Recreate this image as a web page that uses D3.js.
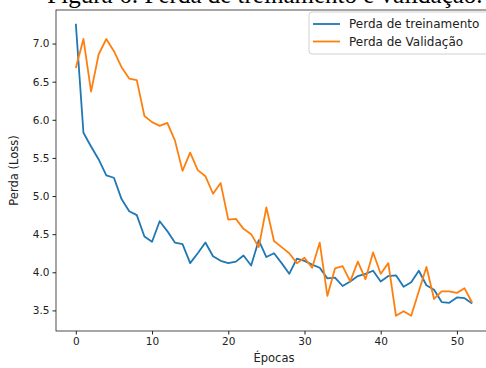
<!DOCTYPE html>
<meta charset="utf-8">
<style>
body { margin: 0; background: #fff; }
.tick text { font-family: "DejaVu Sans", sans-serif; font-size: 10.5px; fill: #222; }
.tick line { stroke: #222; }
.line { fill: none; stroke-width: 1.8px; stroke-linejoin: round; }
</style>
<body>
<script src="https://d3js.org/d3.v7.min.js"></script>
<script>

// data
var epochs = d3.range(0, 53);
var trainLoss = [7.26, 5.83, 5.65, 5.48, 5.27, 5.24, 4.96, 4.80, 4.75, 4.47,
  4.40, 4.67, 4.54, 4.39, 4.37, 4.12, 4.25, 4.39, 4.21, 4.15,
  4.12, 4.14, 4.22, 4.09, 4.42, 4.20, 4.25, 4.12, 3.98, 4.18,
  4.15, 4.10, 4.06, 3.92, 3.93, 3.82, 3.88, 3.95, 3.98, 4.02,
  3.88, 3.95, 3.96, 3.81, 3.87, 4.02, 3.83, 3.77, 3.61, 3.60,
  3.67, 3.66, 3.59];
var valLoss = [6.68, 7.06, 6.37, 6.86, 7.06, 6.90, 6.69, 6.54, 6.52, 6.05,
  5.97, 5.92, 5.96, 5.73, 5.33, 5.57, 5.34, 5.26, 5.03, 5.17,
  4.69, 4.70, 4.57, 4.50, 4.33, 4.85, 4.41, 4.33, 4.25, 4.12,
  4.19, 4.06, 4.39, 3.69, 4.05, 4.08, 3.88, 4.14, 3.91, 4.26,
  3.98, 4.12, 3.43, 3.49, 3.43, 3.75, 4.07, 3.65, 3.75, 3.75,
  3.73, 3.79, 3.60];
var xTicks = [0, 10, 20, 30, 40, 50];
var yTicks = [3.5, 4.0, 4.5, 5.0, 5.5, 6.0, 6.5, 7.0];
var seriesNames = ["Perda de treinamento", "Perda de Validação"];
var colors = ["#1f77b4", "#ff7f0e"];

var W = 486, H = 368;
var box = {left: 56, right: 492, top: 10, bottom: 331};

var svg = d3.select("body").append("svg")
    .attr("width", W)
    .attr("height", H);

// title, cut off at the top like the source picture
svg.append("text")
    .attr("x", 265)
    .attr("y", 3)
    .attr("text-anchor", "middle")
    .style("font-family", "'Liberation Serif', serif")
    .style("font-size", "25px")
    .style("fill", "#000")
    .text("Figura 6: Perda de treinamento e validação.");

var x = d3.scaleLinear().domain([-2.6, 54.6]).range([box.left, box.right]);
var y = d3.scaleLinear().domain([3.23, 7.44]).range([box.bottom, box.top]);

// frame
svg.append("rect")
    .attr("x", box.left).attr("y", box.top)
    .attr("width", box.right - box.left).attr("height", box.bottom - box.top)
    .attr("fill", "none")
    .attr("stroke", "#222")
    .attr("stroke-width", 0.8);

svg.append("g")
    .attr("transform", "translate(0," + box.bottom + ")")
    .call(d3.axisBottom(x).tickValues(xTicks).tickSize(3.5).tickPadding(3).tickFormat(d3.format("d")))
    .call(g => g.select(".domain").remove());

svg.append("g")
    .attr("transform", "translate(" + box.left + ",0)")
    .call(d3.axisLeft(y).tickValues(yTicks).tickSize(3.5).tickPadding(3).tickFormat(d3.format(".1f")))
    .call(g => g.select(".domain").remove());

var line = d3.line()
    .x((d, i) => x(epochs[i]))
    .y(d => y(d));

[trainLoss, valLoss].forEach(function(s, k) {
  svg.append("path")
      .datum(s)
      .attr("class", "line")
      .style("stroke", colors[k])
      .attr("d", line);
});

// axis labels
svg.append("text")
    .attr("x", x(26))
    .attr("y", 362)
    .attr("text-anchor", "middle")
    .style("font-family", "'DejaVu Sans', sans-serif")
    .style("font-size", "11.5px")
    .style("fill", "#222")
    .text("Épocas");

svg.append("text")
    .attr("transform", "translate(18," + ((box.top + box.bottom) / 2) + ")rotate(-90)")
    .attr("text-anchor", "middle")
    .style("font-family", "'DejaVu Sans', sans-serif")
    .style("font-size", "11.5px")
    .style("fill", "#222")
    .text("Perda (Loss)");

// legend
var lg = svg.append("g").attr("transform", "translate(309,12)");
lg.append("rect")
    .attr("width", 190).attr("height", 42)
    .attr("rx", 3)
    .attr("fill", "#fff")
    .attr("stroke", "#d0d0d0");
seriesNames.forEach(function(name, i) {
  lg.append("line")
      .attr("x1", 4).attr("x2", 31)
      .attr("y1", 12 + i * 17.5).attr("y2", 12 + i * 17.5)
      .attr("stroke", colors[i])
      .attr("stroke-width", 1.8);
  lg.append("text")
      .attr("x", 40)
      .attr("y", 16 + i * 17.5)
      .style("font-family", "'DejaVu Sans', sans-serif")
      .style("font-size", "12px")
      .style("fill", "#222")
      .text(name);
});

</script>
</body>
